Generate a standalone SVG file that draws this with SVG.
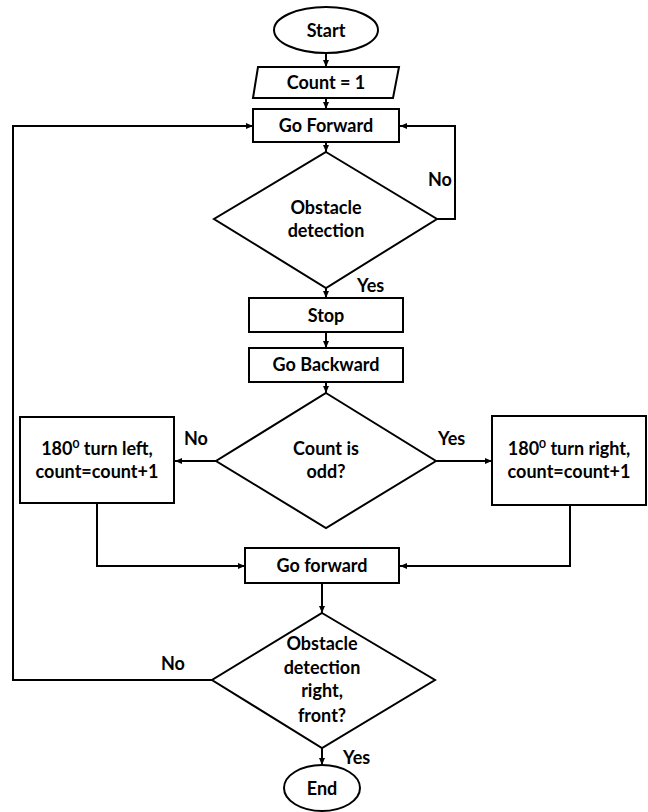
<svg xmlns="http://www.w3.org/2000/svg" width="648" height="812" viewBox="0 0 648 812">
<defs>
<style>
.s{fill:#fff;stroke:#000;stroke-width:2}
.c{fill:none;stroke:#000;stroke-width:2}
text{font-family:Lato,"Open Sans","Liberation Sans",sans-serif;font-weight:bold;font-size:18px;fill:#000}
.m{text-anchor:middle}
</style>
<marker id="a" markerWidth="8" markerHeight="8" refX="7" refY="4" orient="auto" markerUnits="userSpaceOnUse">
<path d="M0,1 L7,4 L0,7 Z" fill="#000"/>
</marker>
</defs>
<rect width="648" height="812" fill="#fff"/>
<g id="connectors">
<line class="c" x1="326" y1="53" x2="326" y2="67" marker-end="url(#a)"/>
<line class="c" x1="326" y1="98" x2="326" y2="109" marker-end="url(#a)"/>
<line class="c" x1="326" y1="142" x2="326" y2="152" marker-end="url(#a)"/>
<polyline class="c" points="437,219 455,219 455,126 400,126" marker-end="url(#a)"/>
<line class="c" x1="326" y1="288" x2="326" y2="298" marker-end="url(#a)"/>
<line class="c" x1="326" y1="332" x2="326" y2="348" marker-end="url(#a)"/>
<line class="c" x1="326" y1="382" x2="326" y2="393" marker-end="url(#a)"/>
<line class="c" x1="216" y1="461" x2="175" y2="461" marker-end="url(#a)"/>
<line class="c" x1="436" y1="461" x2="492" y2="461" marker-end="url(#a)"/>
<polyline class="c" points="97,503 97,566 245,566" marker-end="url(#a)"/>
<polyline class="c" points="570,505 570,566 400,566" marker-end="url(#a)"/>
<line class="c" x1="322" y1="583" x2="322" y2="613" marker-end="url(#a)"/>
<polyline class="c" points="212,680 13,680 13,126 253,126" marker-end="url(#a)"/>
<line class="c" x1="322" y1="748" x2="322" y2="765" marker-end="url(#a)"/>
<text x="428" y="186">No</text>
<text x="357" y="292">Yes</text>
<text x="184" y="445">No</text>
<text x="438" y="445">Yes</text>
<text x="161" y="670">No</text>
<text x="343" y="764">Yes</text>
</g>
<g id="start">
<ellipse class="s" cx="326" cy="30" rx="52" ry="23"/>
<text class="m" x="326" y="37">Start</text>
</g>
<g id="count">
<polygon class="s" points="258,67 399,67 393,98 253,98"/>
<text class="m" x="326" y="89">Count = 1</text>
</g>
<g id="goforward1">
<rect class="s" x="253" y="109" width="146" height="33"/>
<text class="m" x="326" y="132">Go Forward</text>
</g>
<g id="obstacle1">
<polygon class="s" points="326,152 437,219 326,288 214,219"/>
<text class="m" x="326" y="214">Obstacle</text>
<text class="m" x="326" y="237">detection</text>
</g>
<g id="stop">
<rect class="s" x="249" y="298" width="154" height="34"/>
<text class="m" x="326" y="322">Stop</text>
</g>
<g id="gobackward">
<rect class="s" x="249" y="348" width="154" height="34"/>
<text class="m" x="326" y="371">Go Backward</text>
</g>
<g id="countodd">
<polygon class="s" points="326,393 436,461 326,528 216,461"/>
<text class="m" x="326" y="455">Count is</text>
<text class="m" x="326" y="478">odd?</text>
</g>
<g id="turnleft">
<rect class="s" x="20" y="417" width="154" height="86"/>
<text class="m" x="97" y="455">180<tspan font-size="12" dy="-7">0</tspan><tspan dy="7"> turn left,</tspan></text>
<text class="m" x="97" y="478">count=count+1</text>
</g>
<g id="turnright">
<rect class="s" x="492" y="416" width="154" height="89"/>
<text class="m" x="569" y="455">180<tspan font-size="12" dy="-7">0</tspan><tspan dy="7"> turn right,</tspan></text>
<text class="m" x="569" y="478">count=count+1</text>
</g>
<g id="goforward2">
<rect class="s" x="245" y="548" width="154" height="35"/>
<text class="m" x="322" y="572">Go forward</text>
</g>
<g id="obstacle2">
<polygon class="s" points="322,613 435,680 322,748 212,680"/>
<text class="m" x="322" y="650">Obstacle</text>
<text class="m" x="322" y="674">detection</text>
<text class="m" x="322" y="697">right,</text>
<text class="m" x="322" y="722">front?</text>
</g>
<g id="end">
<ellipse class="s" cx="322" cy="788" rx="38" ry="23"/>
<text class="m" x="322" y="795">End</text>
</g>
</svg>
